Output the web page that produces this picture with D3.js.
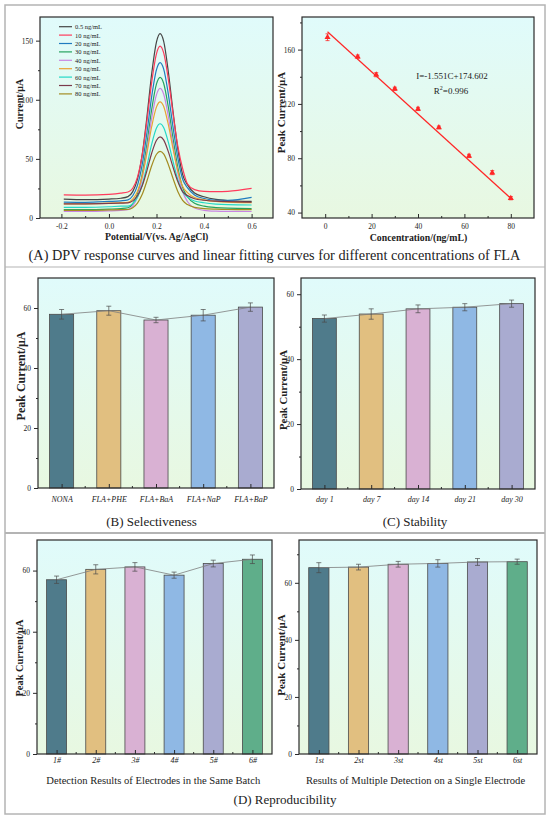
<!DOCTYPE html>
<html>
<head>
<meta charset="utf-8">
<script src="https://cdn.jsdelivr.net/npm/d3@7"></script>
<style>
  body { margin: 0; background: #fff; }
  svg { display: block; }
</style>
</head>
<body>
<script>
// ---- data ----
const potentials = [-0.19, -0.1, 0, 0.05, 0.08, 0.1, 0.12, 0.14, 0.16, 0.18, 0.2, 0.215, 0.23, 0.25, 0.27, 0.29, 0.31, 0.33, 0.36, 0.4, 0.45, 0.5, 0.6];
const cur05 = [16, 15.5, 16, 16.7, 18.1, 22.3, 32.8, 53.8, 86, 122.4, 149, 156, 149.6, 123.3, 89.3, 58, 36.7, 28.2, 21.1, 18, 15.7, 14.7, 14];
const cur10 = [19.5, 19.3, 20, 21, 22, 25.2, 34.6, 53.5, 82.5, 115.2, 139.1, 145.4, 139.8, 117, 87.4, 60.3, 41.7, 29, 24, 22.5, 22.3, 22.6, 25];
const cur20 = [13.5, 13.3, 14, 14.5, 15.3, 18.8, 27.6, 45.3, 72.5, 103.1, 125.5, 131.4, 126.1, 104.4, 76.2, 50.4, 32.8, 25.7, 19.5, 16.5, 15, 15, 17.5];
const cur30 = [7, 7, 7.5, 8, 8.7, 12, 20.4, 37.2, 63, 92.1, 113.4, 119, 114, 93.5, 66.8, 42.4, 25.8, 18, 12.4, 10, 8.8, 8.3, 8];
const cur40 = [5.5, 5.5, 6, 6.5, 7.1, 10.2, 18, 33.6, 57.6, 84.6, 104.4, 109.6, 104.9, 85.7, 60.7, 37.8, 22.2, 14, 8.5, 6.5, 5.8, 5.6, 5.5];
const cur50 = [12, 12, 12.5, 13, 13.3, 15.9, 22.4, 35.3, 55.2, 77.6, 94, 98.3, 94.5, 78.7, 58.2, 39.4, 26.6, 21.5, 17.3, 15.4, 14, 13.4, 13];
const cur60 = [9, 9, 9.5, 10, 10.1, 12.2, 17.5, 28.1, 44.4, 62.7, 76.2, 79.7, 76.6, 63.9, 47.4, 32.3, 22, 17.9, 14.4, 12.9, 11.8, 11.3, 11];
const cur70 = [12, 12, 12.3, 12.6, 12.8, 14.5, 18.8, 27.3, 40.3, 55, 65.8, 68.6, 66.1, 55.9, 42.7, 30.6, 22.3, 19, 16.3, 15, 14.2, 13.8, 13.5];
const cur80 = [6.5, 6.5, 6.8, 7, 7.2, 8.7, 12.5, 20, 31.5, 44.4, 53.9, 56.4, 54.2, 45.1, 33.2, 22.3, 14.9, 11.4, 9, 8, 7.5, 7.2, 7];
const dpvLabels = ["0.5 ng/mL", "10 ng/mL", "20 ng/mL", "30 ng/mL", "40 ng/mL", "50 ng/mL", "60 ng/mL", "70 ng/mL", "80 ng/mL"];

const fitConc = [1, 14, 22, 30, 40, 49, 62, 72, 80];
const fitPeak = [169.1, 154.8, 141.5, 131.1, 116.3, 102.7, 81.7, 69.4, 50.6];
const fitErr = [2.5, 1.2, 1.5, 1.2, 1.2, 1, 1.2, 1.5, 1.2];
const fitLineConc = [1, 80];
const fitLinePeak = [173.1, 50.5];

const selCats = ["NONA", "FLA+PHE", "FLA+BaA", "FLA+NaP", "FLA+BaP"];
const selVals = [57.9, 59.1, 56.0, 57.6, 60.3];
const selErr = [1.6, 1.5, 0.9, 1.9, 1.4];

const stabCats = ["day 1", "day 7", "day 14", "day 21", "day 30"];
const stabVals = [52.5, 53.9, 55.5, 56.0, 57.1];
const stabErr = [1.1, 1.6, 1.2, 1.1, 1.1];

const batchCats = ["1#", "2#", "3#", "4#", "5#", "6#"];
const batchVals = [57.0, 60.4, 61.2, 58.5, 62.3, 63.7];
const batchErr = [1.2, 1.5, 1.4, 1.0, 1.1, 1.4];

const repeatCats = ["1st", "2st", "3st", "4st", "5st", "6st"];
const repeatVals = [65.3, 65.5, 66.5, 66.8, 67.3, 67.4];
const repeatErr = [1.75, 1.0, 1.0, 1.3, 1.2, 0.9];

// ---- styles ----
const serif = '"Liberation Serif", "Times New Roman", serif';
const dpvColors = ["#454545", "#ff3b5c", "#1f7bbf", "#26a35f", "#c985e2", "#e9a233", "#25d8c6", "#7b3a4c", "#a38c22"];
const barColors = ["#4f7b8b", "#e1bf80", "#d9b1d3", "#8fb8e4", "#a9abd0", "#5fae8a"];
const ink = "#222";

const svg = d3.select("body").append("svg").attr("width", 550).attr("height", 819);

const grad = svg.append("defs").append("linearGradient")
  .attr("id", "bg").attr("x1", 0).attr("y1", 0).attr("x2", 0).attr("y2", 1);
grad.append("stop").attr("offset", "0%").attr("stop-color", "#e0fbfb");
grad.append("stop").attr("offset", "100%").attr("stop-color", "#e8f8e1");

// outer frame and separators
svg.append("rect").attr("x", 5).attr("y", 5).attr("width", 540).attr("height", 809)
  .attr("fill", "none").attr("stroke", "#b4b4b4").attr("stroke-width", 1.5);
svg.append("line").attr("x1", 5).attr("x2", 545).attr("y1", 267).attr("y2", 267)
  .attr("stroke", "#b4b4b4").attr("stroke-width", 1.2);
svg.append("line").attr("x1", 5).attr("x2", 545).attr("y1", 533).attr("y2", 533)
  .attr("stroke", "#b4b4b4").attr("stroke-width", 2);

function plotBg(b) {
  svg.append("rect").attr("x", b.l).attr("y", b.t).attr("width", b.r - b.l).attr("height", b.b - b.t)
    .attr("fill", "url(#bg)");
}
function plotBorder(b) {
  svg.append("rect").attr("x", b.l).attr("y", b.t).attr("width", b.r - b.l).attr("height", b.b - b.t)
    .attr("fill", "none").attr("stroke", "#2a2a2a").attr("stroke-width", 1.2);
}
function styleAxis(g, size, italic) {
  g.selectAll(".domain").remove();
  g.selectAll("line").attr("stroke", "#2a2a2a");
  g.selectAll("text").attr("font-family", serif).attr("font-size", size).attr("fill", ink)
    .attr("font-style", italic ? "italic" : "normal");
}
function leftAxis(y, b, majors, minors, size) {
  const g = svg.append("g").attr("transform", `translate(${b.l},0)`);
  g.call(d3.axisLeft(y).tickValues(majors).tickSize(4).tickPadding(3).tickFormat(d3.format("d")));
  g.append("g").call(d3.axisLeft(y).tickValues(minors).tickSize(2).tickFormat(""));
  styleAxis(g, size);
}
function bottomAxis(x, b, majors, minors, fmt, pad, size) {
  const g = svg.append("g").attr("transform", `translate(0,${b.b})`);
  g.call(d3.axisBottom(x).tickValues(majors).tickSize(-4).tickPadding(pad).tickFormat(fmt));
  g.append("g").call(d3.axisBottom(x).tickValues(minors).tickSize(-2).tickFormat(""));
  styleAxis(g, size);
}
function yTitle(text, x, cy, size) {
  svg.append("text").attr("transform", `translate(${x},${cy}) rotate(-90)`)
    .attr("text-anchor", "middle").attr("dominant-baseline", "central")
    .attr("font-family", serif).attr("font-weight", "bold").attr("font-size", size).attr("fill", ink)
    .text(text);
}
function centerText(text, cx, cy, size, bold) {
  return svg.append("text").attr("x", cx).attr("y", cy)
    .attr("text-anchor", "middle").attr("dominant-baseline", "central")
    .attr("font-family", serif).attr("font-size", size).attr("font-weight", bold ? "bold" : "normal")
    .attr("fill", ink).text(text);
}

// ---- (A) left: DPV curves ----
{
  const b = { l: 40, r: 273, t: 17, b: 218 };
  const x = d3.scaleLinear().domain([-0.29, 0.69]).range([b.l, b.r]);
  const y = d3.scaleLinear().domain([0, 170]).range([b.b, b.t]);
  plotBg(b);
  const series = [cur05, cur10, cur20, cur30, cur40, cur50, cur60, cur70, cur80];
  const line = d3.line().x((d, i) => x(potentials[i])).y(d => y(d)).curve(d3.curveMonotoneX);
  svg.append("g").selectAll("path").data(series).join("path")
    .attr("d", line).attr("fill", "none")
    .attr("stroke", (d, i) => dpvColors[i]).attr("stroke-width", 1.2);

  const leg = svg.append("g").attr("transform", "translate(59,26.7)");
  dpvLabels.forEach((t, i) => {
    leg.append("line").attr("x1", 0).attr("x2", 13).attr("y1", i * 8.4).attr("y2", i * 8.4)
      .attr("stroke", dpvColors[i]).attr("stroke-width", 1.2);
    leg.append("text").attr("x", 16).attr("y", i * 8.4).attr("dominant-baseline", "central")
      .attr("font-family", serif).attr("font-size", 6.5).attr("fill", ink).text(t);
  });

  leftAxis(y, b, [0, 50, 100, 150], [25, 75, 125], 7.5);
  bottomAxis(x, b, [-0.2, 0, 0.2, 0.4, 0.6], [-0.1, 0.1, 0.3, 0.5], d => d.toFixed(1), 6, 7.5);
  plotBorder(b);
  yTitle("Current/μA", 19, 104, 10);
  centerText("Potential/V(vs. Ag/AgCl)", 156.7, 236.7, 9.8, true);
}

// ---- (A) right: linear fit ----
{
  const b = { l: 302, r: 534, t: 17, b: 218 };
  const x = d3.scaleLinear().domain([-10, 90]).range([b.l, b.r]);
  const y = d3.scaleLinear().domain([36, 184]).range([b.b, b.t]);
  plotBg(b);
  svg.append("line")
    .attr("x1", x(fitLineConc[0])).attr("y1", y(fitLinePeak[0]))
    .attr("x2", x(fitLineConc[1])).attr("y2", y(fitLinePeak[1]))
    .attr("stroke", "#ff2626").attr("stroke-width", 1.2);
  const eb = svg.append("g").attr("stroke", "#ff2626").attr("stroke-width", 0.8);
  fitConc.forEach((c, i) => {
    const cx = x(c), top = y(fitPeak[i] + fitErr[i]), bot = y(fitPeak[i] - fitErr[i]);
    eb.append("line").attr("x1", cx).attr("x2", cx).attr("y1", top).attr("y2", bot);
    eb.append("line").attr("x1", cx - 2).attr("x2", cx + 2).attr("y1", top).attr("y2", top);
    eb.append("line").attr("x1", cx - 2).attr("x2", cx + 2).attr("y1", bot).attr("y2", bot);
  });
  svg.append("g").selectAll("path").data(fitConc).join("path")
    .attr("d", d3.symbol(d3.symbolTriangle).size(16))
    .attr("transform", (d, i) => `translate(${x(d)},${y(fitPeak[i])})`)
    .attr("fill", "#ff2626");

  centerText("I=-1.551C+174.602", 452, 76, 9);
  const r2 = centerText("R", 451, 90.5, 9);
  r2.append("tspan").attr("baseline-shift", "super").attr("font-size", 6).text("2");
  r2.append("tspan").text("=0.996");

  leftAxis(y, b, [40, 80, 120, 160], [60, 100, 140, 180], 7.5);
  bottomAxis(x, b, [0, 20, 40, 60, 80], [10, 30, 50, 70], d3.format("d"), 6, 7.5);
  plotBorder(b);
  yTitle("Peak Current/μA", 281, 112.5, 11);
  centerText("Concentration/(ng/mL)", 418.5, 237.5, 9.8, true);
}

centerText("(A) DPV response curves and linear fitting curves for different concentrations of FLA", 274.5, 255, 14.3);

// ---- bar panels ----
function barPanel(b, cats, vals, errs, yMax, minors, pad, titleX, titleY, titleSize) {
  plotBg(b);
  const x = d3.scalePoint().domain(cats).range([b.l, b.r]).padding(0.5);
  const y = d3.scaleLinear().domain([0, yMax]).range([b.b, b.t]);
  const bw = x.step() * 0.51;

  svg.append("g").selectAll("rect").data(cats).join("rect")
    .attr("x", d => x(d) - bw / 2)
    .attr("y", (d, i) => y(vals[i]))
    .attr("width", bw)
    .attr("height", (d, i) => b.b - y(vals[i]))
    .attr("fill", (d, i) => barColors[i])
    .attr("stroke", "#4a4a4a").attr("stroke-width", 0.8);

  svg.append("path")
    .attr("d", d3.line().x(d => x(d)).y((d, i) => y(vals[i]))(cats))
    .attr("fill", "none").attr("stroke", "#7d7d7d").attr("stroke-width", 0.8);

  const eb = svg.append("g").attr("stroke", "#4a4a4a").attr("stroke-width", 0.7);
  cats.forEach((c, i) => {
    const cx = x(c), top = y(vals[i] + errs[i]), bot = y(vals[i] - errs[i]);
    eb.append("line").attr("x1", cx).attr("x2", cx).attr("y1", top).attr("y2", bot);
    eb.append("line").attr("x1", cx - 2.5).attr("x2", cx + 2.5).attr("y1", top).attr("y2", top);
    eb.append("line").attr("x1", cx - 2.5).attr("x2", cx + 2.5).attr("y1", bot).attr("y2", bot);
  });

  leftAxis(y, b, [0, 20, 40, 60], minors, 7.5);
  const g = svg.append("g").attr("transform", `translate(0,${b.b})`);
  g.call(d3.axisBottom(x).tickSize(-4).tickPadding(pad));
  g.append("g").selectAll("line").data(cats.slice(1)).join("line")
    .attr("x1", (d, i) => (x(cats[i]) + x(d)) / 2).attr("x2", (d, i) => (x(cats[i]) + x(d)) / 2)
    .attr("y1", 0).attr("y2", -2);
  styleAxis(g, 8, true);
  plotBorder(b);
  yTitle("Peak Current/μA", titleX, titleY, titleSize);
}

barPanel({ l: 38, r: 274, t: 278, b: 488 }, selCats, selVals, selErr, 70, [10, 30, 50], 8, 20.5, 376, 12);
barPanel({ l: 301, r: 535, t: 278, b: 489 }, stabCats, stabVals, stabErr, 65, [10, 30, 50], 7, 282.5, 390, 10.8);
centerText("(B) Selectiveness", 151.5, 521.7, 13);
centerText("(C) Stability", 415, 521.7, 13);

barPanel({ l: 37, r: 272, t: 540, b: 754 }, batchCats, batchVals, batchErr, 70, [10, 30, 50], 3, 19, 658, 10.4);
barPanel({ l: 299, r: 537, t: 540, b: 754 }, repeatCats, repeatVals, repeatErr, 75, [10, 30, 50, 70], 3, 280.5, 655, 11);
centerText("Detection Results of Electrodes in the Same Batch", 153.3, 780, 10.6);
centerText("Results of Multiple Detection on a Single Electrode", 415.5, 780, 10.6);
centerText("(D) Reproducibility", 285, 799, 13);
</script>
</body>
</html>
